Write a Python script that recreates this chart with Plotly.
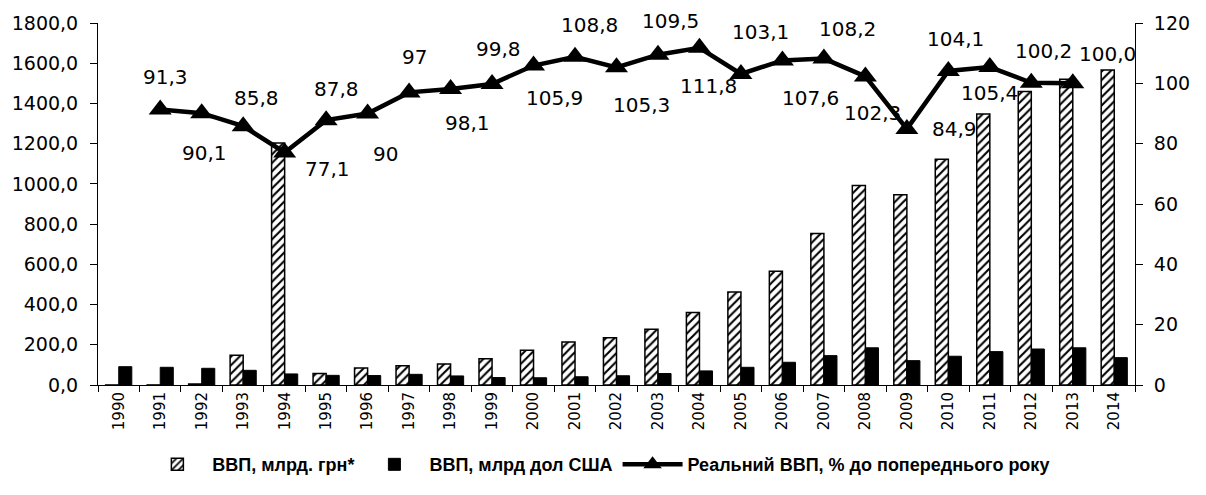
import plotly.graph_objects as go

years = [str(y) for y in range(1990, 2015)]

gdp_uah = [0.2, 0.3, 5.0, 148.3, 1203.8, 57.0, 84.0, 96.0, 105.0, 131.0, 173.0, 214.0,
           235.0, 277.0, 360.0, 462.0, 566.0, 753.0, 992.0, 946.0, 1122.0, 1348.0,
           1460.0, 1520.0, 1566.0]
gdp_usd = [91.0, 88.0, 83.0, 73.0, 55.0, 48.0, 47.0, 53.0, 45.0, 37.0, 36.0, 41.0,
           46.0, 57.0, 70.0, 88.0, 113.0, 146.0, 185.0, 121.0, 143.0, 166.0, 179.0,
           185.0, 136.0]

real_years = [str(y) for y in range(1991, 2014)]
real_gdp = [91.3, 90.1, 85.8, 77.1, 87.8, 90.0, 97.0, 98.1, 99.8, 105.9, 108.8, 105.3,
            109.5, 111.8, 103.1, 107.6, 108.2, 102.3, 84.9, 104.1, 105.4, 100.2, 100.0]
real_labels = ["91,3", "90,1", "85,8", "77,1", "87,8", "90", "97", "98,1", "99,8",
               "105,9", "108,8", "105,3", "109,5", "111,8", "103,1", "107,6", "108,2",
               "102,3", "84,9", "104,1", "105,4", "100,2", "100,0"]

# label pixel offsets (styling only): (dx, dy) with dy up-positive
label_shift = [(5, 33), (3, -40), (13, 28), (43, -17), (10, 31), (18, -40), (5, 35),
               (17, -34), (6, 35), (21, -32), (14, 32), (25, -38), (13, 34), (9, -38),
               (20, 42), (28, -38), (24, 30), (7, -37), (48, 0), (7, 32), (0, -26),
               (12, 32), (35, 29)]

FONT = "DejaVu Sans"
LEG_FONT = "Liberation Sans"

fig = go.Figure()
fig.add_trace(go.Bar(
    x=years, y=gdp_uah, name="<b>ВВП, млрд. грн*</b>",
    marker=dict(color="white",
                line=dict(color="black", width=1.5),
                pattern=dict(shape="/", fgcolor="black", bgcolor="white",
                             size=6, solidity=0.35, fillmode="replace")),
))
fig.add_trace(go.Bar(
    x=years, y=gdp_usd, name="<b>ВВП, млрд дол США</b>",
    marker=dict(color="black", line=dict(color="black", width=1)),
))
fig.add_trace(go.Scatter(
    x=real_years, y=real_gdp, yaxis="y2", mode="lines+markers",
    name="<b>Реальний ВВП, % до попереднього року</b>",
    line=dict(color="black", width=4.5),
    marker=dict(symbol="triangle-up", size=20, color="black"),
))

for xv, yv, t, (dx, dy) in zip(real_years, real_gdp, real_labels, label_shift):
    fig.add_annotation(x=years.index(xv), y=yv, xref="x", yref="y2", text=t,
                       showarrow=False, xshift=dx, yshift=dy,
                       font=dict(family=FONT, size=20, color="black"))

fig.update_layout(
    width=1206, height=495,
    barmode="group", bargap=0.37, bargroupgap=0,
    plot_bgcolor="white", paper_bgcolor="white",
    separators=",.",
    font=dict(family=FONT, color="black", size=18),
    margin=dict(l=97, r=71, t=20, b=110),
    showlegend=True,
    legend=dict(orientation="h", x=0.483, xanchor="center", y=-0.22, yanchor="middle",
                font=dict(family=LEG_FONT, size=18, color="black"),
                itemwidth=60, traceorder="normal"),
    xaxis=dict(type="category", range=[-0.5, 24.5], tickangle=-90,
               ticks="outside", tickson="boundaries", ticklen=6, tickcolor="black",
               showline=True, linecolor="black", linewidth=1,
               showgrid=False, tickfont=dict(size=15)),
    yaxis=dict(range=[0, 1800], dtick=200, tickformat=".1f",
               ticks="outside", ticklen=7, tickcolor="black", ticklabelstandoff=8,
               showline=True, linecolor="black", linewidth=1,
               showgrid=False, zeroline=False, tickfont=dict(size=19)),
    yaxis2=dict(range=[0, 120], dtick=20, overlaying="y", side="right",
                ticks="outside", ticklen=7, tickcolor="black", ticklabelstandoff=7,
                showline=True, linecolor="black", linewidth=1,
                showgrid=False, zeroline=False, tickfont=dict(size=19)),
)

fig.write_html("out.html", config={"displayModeBar": False},
               post_script="document.body.style.margin='0';")
